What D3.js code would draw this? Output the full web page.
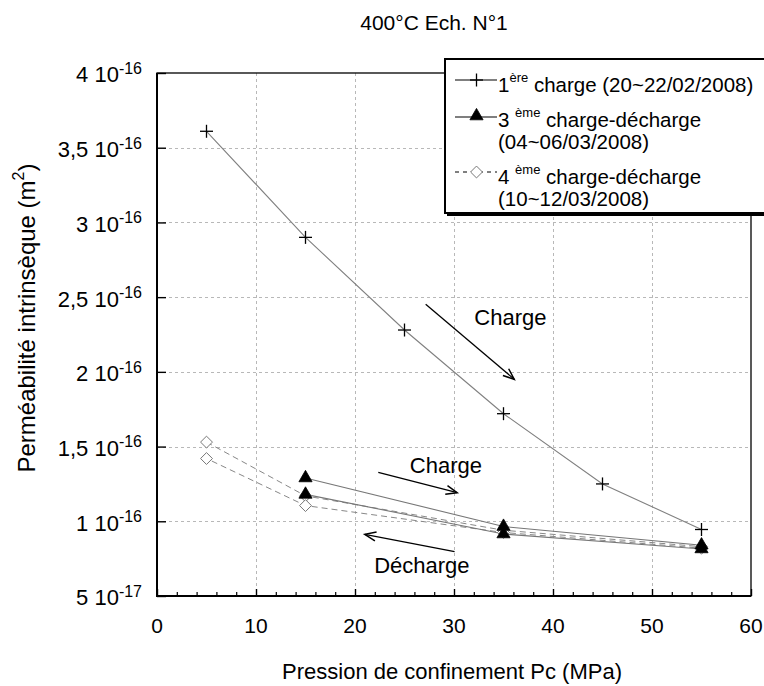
<!DOCTYPE html>
<html><head><meta charset="utf-8">
<script src="https://cdn.jsdelivr.net/npm/d3@7"></script>
<style>body{margin:0;background:#fff}svg{display:block;font-family:"Liberation Sans",Arial,sans-serif}</style>
</head><body>
<svg id="c" width="764" height="686"></svg>
<script>
// Data (permeability in units of 1e-16 m2, pressure in MPa)
const pressure1 = [5, 15, 25, 35, 45, 55];
const perm1 = [3.61, 2.90, 2.28, 1.72, 1.25, 0.945];
const pressure3 = [15, 35, 55, 55, 35, 15];
const perm3 = [1.29, 0.965, 0.84, 0.815, 0.915, 1.18];
const pressure4 = [5, 15, 35, 55, 55, 35, 15, 5];
const perm4 = [1.53, 1.17, 0.94, 0.83, 0.82, 0.925, 1.105, 1.42];
const xTicks = [0, 10, 20, 30, 40, 50, 60];
const yTicks = [0.5, 1, 1.5, 2, 2.5, 3, 3.5, 4];
const yTickMantissa = ["5", "1", "1,5", "2", "2,5", "3", "3,5", "4"];
const yTickExp = ["-17", "-16", "-16", "-16", "-16", "-16", "-16", "-16"];
const legendLabels = [
  [["1", ""], ["ère", "sup"], [" charge (20~22/02/2008)", ""]],
  [["3 ", ""], ["ème", "sup"], [" charge-décharge", ""]],
  [["(04~06/03/2008)", ""]],
  [["4 ", ""], ["ème", "sup"], [" charge-décharge", ""]],
  [["(10~12/03/2008)", ""]]
];
const annotations = [
  {label: "Charge", lx: 35.7, ly: 2.314, x1: 27.14, y1: 2.452, x2: 36.09, y2: 1.95},
  {label: "Charge", lx: 29.18, ly: 1.323, x1: 22.35, y1: 1.328, x2: 30.32, y2: 1.191},
  {label: "Décharge", lx: 26.75, ly: 0.654, x1: 30.06, y1: 0.797, x2: 20.99, y2: 0.913}
];

const svg = d3.select("#c");
const L = 157, R = 751, T = 73, B = 596;
const x = d3.scaleLinear().domain([0, 60]).range([L, R]);
const y = d3.scaleLinear().domain([0.5, 4]).range([B, T]);

// grid
const grid = svg.append("g").attr("stroke", "#b8b8b8").attr("stroke-width", 1).attr("stroke-dasharray", "3,3");
grid.selectAll("line.v").data(xTicks.slice(1, -1)).join("line")
  .attr("x1", d => x(d) + 0.5).attr("x2", d => x(d) + 0.5).attr("y1", T).attr("y2", B);
grid.selectAll("line.h").data(yTicks.slice(1, -1)).join("line")
  .attr("y1", d => Math.round(y(d)) + 0.5).attr("y2", d => Math.round(y(d)) + 0.5).attr("x1", L).attr("x2", R);

// frame
svg.append("rect").attr("x", L).attr("y", T).attr("width", R - L).attr("height", B - T)
  .attr("fill", "none").attr("stroke", "#000").attr("stroke-width", 1.3);
svg.append("line").attr("x1", L).attr("x2", L).attr("y1", T).attr("y2", B + 1).attr("stroke", "#000").attr("stroke-width", 2);
svg.append("line").attr("x1", L - 1).attr("x2", R).attr("y1", B).attr("y2", B).attr("stroke", "#000").attr("stroke-width", 2);

// x axis ticks (inside)
const xAxis = d3.axisBottom(x).tickValues(xTicks).tickSize(-7).tickFormat("");
const gx = svg.append("g").attr("transform", `translate(0,${B})`).call(xAxis);
gx.select(".domain").remove();
gx.selectAll("line").attr("stroke-width", 1.4);
const xMinor = d3.axisBottom(x).tickValues(d3.range(2, 60, 2).filter(v => v % 10 !== 0)).tickSize(-4).tickFormat("");
const gxm = svg.append("g").attr("transform", `translate(0,${B})`).call(xMinor);
gxm.select(".domain").remove();
gxm.selectAll("line").attr("stroke-width", 1.2);
svg.append("g").selectAll("text").data(xTicks).join("text")
  .attr("x", d => x(d)).attr("y", 633).attr("text-anchor", "middle")
  .attr("font-size", 21).text(d => d);

// y axis ticks
const yAxis = d3.axisLeft(y).tickValues(yTicks).tickSize(-9).tickFormat("");
const gy = svg.append("g").attr("transform", `translate(${L},0)`).call(yAxis);
gy.select(".domain").remove();
gy.selectAll("line").attr("stroke-width", 1.4);
const yl = svg.append("g").selectAll("text").data(yTicks).join("text")
  .attr("x", 142).attr("y", d => y(d) + 9.4).attr("text-anchor", "end").attr("font-size", 22);
yl.append("tspan").text((d, i) => yTickMantissa[i] + " 10");
yl.append("tspan").attr("font-size", 16).attr("dy", -8.5).text((d, i) => yTickExp[i]);

// titles
svg.append("text").attr("x", 434).attr("y", 30).attr("text-anchor", "middle").attr("font-size", 21).text("400°C Ech. N°1");
svg.append("text").attr("x", 452).attr("y", 679).attr("text-anchor", "middle").attr("font-size", 22)
  .text("Pression de confinement Pc (MPa)");
const yt = svg.append("text").attr("transform", "translate(35,318) rotate(-90)").attr("text-anchor", "middle").attr("font-size", 24);
yt.append("tspan").text("Perméabilité intrinsèque (m");
yt.append("tspan").attr("font-size", 16).attr("dy", -11).text("2");
yt.append("tspan").attr("dy", 11).text(")");

// series
const line = d3.line().x(d => x(d[0])).y(d => y(d[1]));
const s1 = pressure1.map((p, i) => [p, perm1[i]]);
const s3 = pressure3.map((p, i) => [p, perm3[i]]);
const s4 = pressure4.map((p, i) => [p, perm4[i]]);

svg.append("path").datum(s4).attr("d", line).attr("fill", "none").attr("stroke", "#888").attr("stroke-width", 1).attr("stroke-dasharray", "6,4");
svg.append("path").datum(s3).attr("d", line).attr("fill", "none").attr("stroke", "#777").attr("stroke-width", 1.1);
svg.append("path").datum(s1).attr("d", line).attr("fill", "none").attr("stroke", "#808080").attr("stroke-width", 1.1);

const diamond = d3.symbol().type(d3.symbolDiamond2).size(90);
const tri = d3.symbol().type(d3.symbolTriangle).size(75);

svg.append("g").selectAll("path").data(s4).join("path")
  .attr("transform", d => `translate(${x(d[0])},${y(d[1])})`).attr("d", diamond)
  .attr("fill", "#fff").attr("stroke", "#777").attr("stroke-width", 1);
svg.append("g").selectAll("path").data(s3).join("path")
  .attr("transform", d => `translate(${x(d[0])},${y(d[1])})`).attr("d", tri)
  .attr("fill", "#000").attr("stroke", "#000").attr("stroke-width", 0.8);
function plus(g, cx, cy, r) {
  g.append("line").attr("x1", cx - r).attr("x2", cx + r).attr("y1", cy).attr("y2", cy);
  g.append("line").attr("x1", cx).attr("x2", cx).attr("y1", cy - r).attr("y2", cy + r);
}
const cg = svg.append("g").attr("stroke", "#000").attr("stroke-width", 1.3);
s1.forEach(d => plus(cg, x(d[0]), y(d[1]), 6.5));

// annotations
const ag = svg.append("g");
annotations.forEach(a => {
  const X1 = x(a.x1), Y1 = y(a.y1), X2 = x(a.x2), Y2 = y(a.y2);
  ag.append("line").attr("x1", X1).attr("y1", Y1).attr("x2", X2).attr("y2", Y2).attr("stroke", "#000").attr("stroke-width", 1.3);
  const ang = Math.atan2(Y2 - Y1, X2 - X1), hl = 12, ha = 0.38;
  const p = [[X2 - hl * Math.cos(ang - ha), Y2 - hl * Math.sin(ang - ha)], [X2, Y2], [X2 - hl * Math.cos(ang + ha), Y2 - hl * Math.sin(ang + ha)]];
  ag.append("path").attr("d", d3.line()(p)).attr("fill", "none").attr("stroke", "#000").attr("stroke-width", 1.5);
  ag.append("text").attr("x", x(a.lx)).attr("y", y(a.ly)).attr("text-anchor", "middle").attr("font-size", 22).text(a.label);
});

// legend
const lg = svg.append("g");
lg.append("rect").attr("x", 447).attr("y", 61).attr("width", 330).attr("height", 155).attr("fill", "#000");
lg.append("rect").attr("x", 445).attr("y", 59).attr("width", 330).attr("height", 154).attr("fill", "#fff").attr("stroke", "#000").attr("stroke-width", 2);
const rowsY = [92, 127, 149, 184, 206];
legendLabels.forEach((parts, i) => {
  const t = lg.append("text").attr("x", 498).attr("y", rowsY[i]).attr("font-size", 20.5);
  let up = false;
  parts.forEach(([s, kind]) => {
    const ts = t.append("tspan").text(s);
    if (kind === "sup") { ts.attr("font-size", 13).attr("dy", -10); up = true; }
    else if (up) { ts.attr("dy", 10); up = false; }
  });
});
// legend symbols
lg.append("line").attr("x1", 455).attr("x2", 497).attr("y1", 80).attr("y2", 80).attr("stroke", "#000").attr("stroke-width", 1.1);
const lcg = lg.append("g").attr("stroke", "#000").attr("stroke-width", 1.3); plus(lcg, 476.5, 80, 6.5);
lg.append("line").attr("x1", 455).attr("x2", 497).attr("y1", 117).attr("y2", 117).attr("stroke", "#000").attr("stroke-width", 1.1);
lg.append("path").attr("transform", "translate(476.5,116)").attr("d", tri).attr("fill", "#000").attr("stroke", "#000").attr("stroke-width", 0.8);
lg.append("line").attr("x1", 455).attr("x2", 497).attr("y1", 172).attr("y2", 172).attr("stroke", "#000").attr("stroke-width", 1).attr("stroke-dasharray", "4,4");
lg.append("path").attr("transform", "translate(476.5,172)").attr("d", diamond).attr("fill", "#fff").attr("stroke", "#777").attr("stroke-width", 1);
</script>
</body></html>
